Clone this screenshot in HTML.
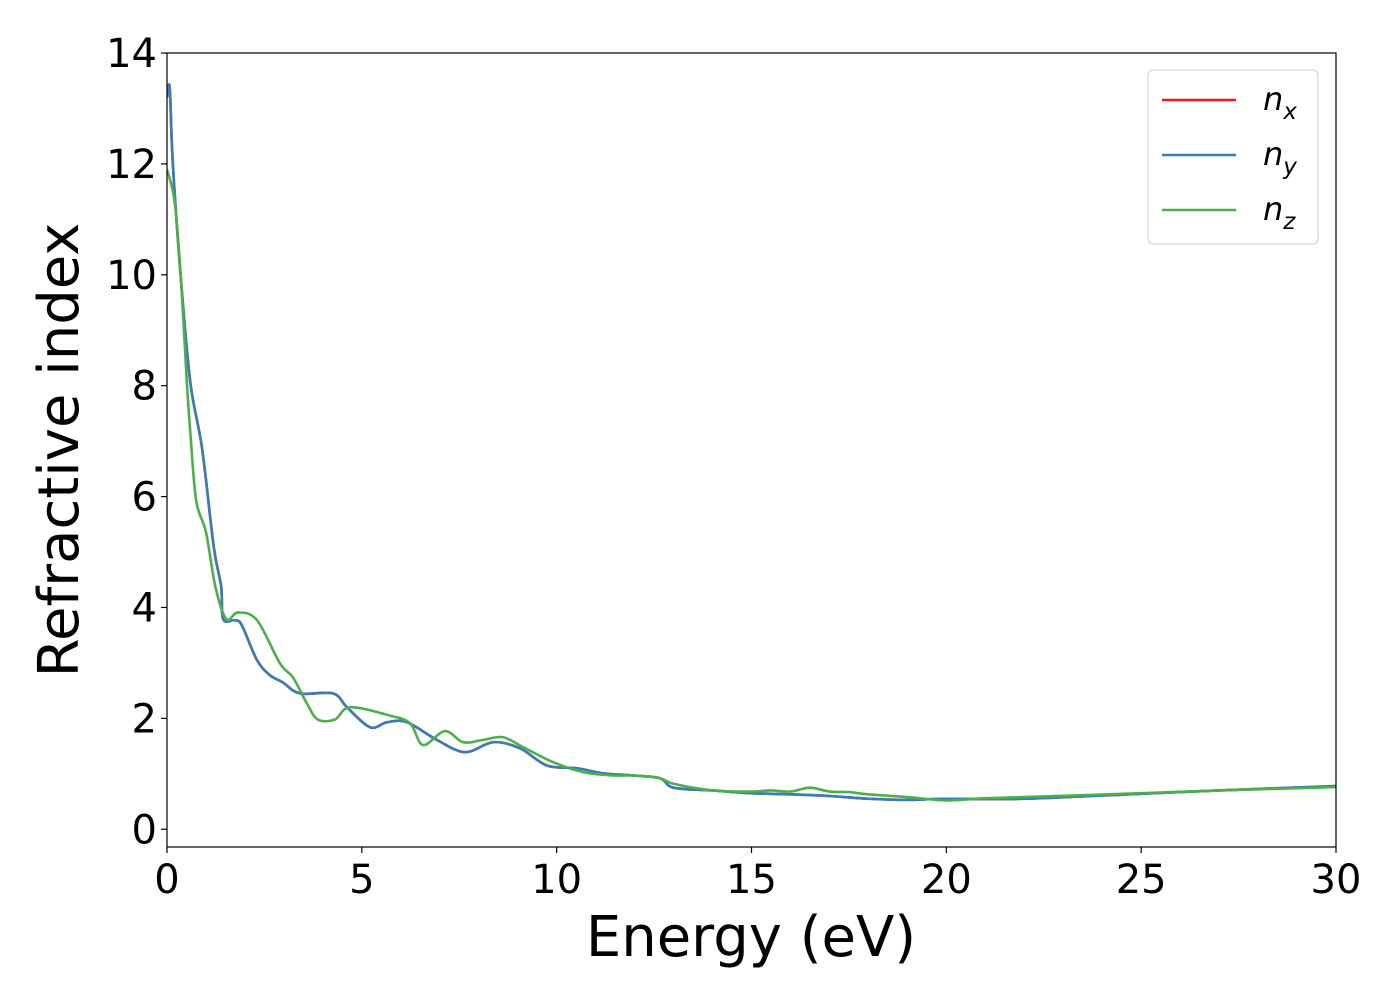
<!DOCTYPE html>
<html><head><meta charset="utf-8"><style>
body{margin:0;background:#fff;}
svg text{font-family:"DejaVu Sans","Liberation Sans",sans-serif;}
</style></head><body>
<svg id="chart" width="1400" height="1000" xmlns="http://www.w3.org/2000/svg">
<rect width="1400" height="1000" fill="#fff"/>
<g id="plot"></g>
</svg>
<script>
const xTicks=[0,5,10,15,20,25,30];
const yTicks=[0,2,4,6,8,10,12,14];
const energyXY=[0,0.07,0.15,0.36,0.6,0.9,1.2,1.39,1.44,1.74,1.92,2.31,2.64,2.97,3.41,4.26,4.62,5.21,5.65,6.16,6.93,7.65,8.37,9.06,9.75,10.52,11.19,11.96,12.65,13,14,15,16,17,18,19,20,22,25,27,30];
const nxValues=[13.2,13.37,12.0,9.9,8.05,6.87,5.09,4.38,3.79,3.77,3.68,3.05,2.78,2.65,2.45,2.45,2.2,1.84,1.93,1.93,1.61,1.39,1.57,1.46,1.15,1.10,1.01,0.97,0.92,0.75,0.7,0.65,0.63,0.6,0.55,0.53,0.55,0.55,0.64,0.7,0.78];
const nyValues=nxValues.slice();
const energyZ=[0,0.2,0.36,0.51,0.6,0.75,1.0,1.24,1.52,1.82,2.31,2.9,3.23,3.59,3.87,4.31,4.7,5.72,6.24,6.57,7.13,7.6,8.1,8.62,9.14,9.91,10.68,11.45,12.0,12.65,13,14,15,15.5,16,16.5,17,17.5,18,19,20,21,22,25,27,30];
const nzValues=[11.9,11.3,9.9,8.05,7.14,5.92,5.36,4.38,3.79,3.91,3.77,2.99,2.74,2.27,1.98,1.98,2.2,2.05,1.91,1.52,1.77,1.57,1.61,1.66,1.48,1.21,1.03,0.97,0.97,0.92,0.82,0.7,0.68,0.7,0.68,0.75,0.68,0.67,0.63,0.58,0.52,0.56,0.58,0.65,0.7,0.76];

const X0=167,X1=1336,Y0=53,Y1=847,xmin=0,xmax=30,ymin=-0.32,ymax=14;
const sx=v=>X0+(v-xmin)/(xmax-xmin)*(X1-X0);
const sy=v=>Y1-(v-ymin)/(ymax-ymin)*(Y1-Y0);
const NS="http://www.w3.org/2000/svg";
const g=document.getElementById('plot');
function mk(t,a,p){const e=document.createElementNS(NS,t);for(const k in a)e.setAttribute(k,a[k]);(p||g).appendChild(e);return e;}
function pathOf(xs,ys){
  const P=xs.map((x,i)=>[sx(x),sy(ys[i])]);
  let d='M'+P[0][0]+','+P[0][1];
  for(let i=0;i<P.length-1;i++){
    const p0=P[Math.max(0,i-1)],p1=P[i],p2=P[i+1],p3=P[Math.min(P.length-1,i+2)];
    const c1=[p1[0]+(p2[0]-p0[0])/6,p1[1]+(p2[1]-p0[1])/6];
    const c2=[p2[0]-(p3[0]-p1[0])/6,p2[1]-(p3[1]-p1[1])/6];
    d+=` C${c1[0]},${c1[1]} ${c2[0]},${c2[1]} ${p2[0]},${p2[1]}`;
  }
  return d;
}
const clip=mk('clipPath',{id:'cp'});
mk('rect',{x:X0,y:Y0,width:X1-X0,height:Y1-Y0},clip);
const series=[[energyXY,nxValues,'#e41a1c','series-nx'],[energyXY,nyValues,'#377eb8','series-ny'],[energyZ,nzValues,'#4daf4a','series-nz']];
series.forEach(s=>{
  const p=mk('path',{d:pathOf(s[0],s[1]),fill:'none',stroke:s[2],'stroke-width':2.6,'clip-path':'url(#cp)','stroke-linejoin':'round'});
  
  
});
const frame=mk('rect',{x:X0,y:Y0,width:X1-X0,height:Y1-Y0,fill:'none',stroke:'#000','stroke-width':1.2});


xTicks.forEach(v=>{
  mk('line',{x1:sx(v),x2:sx(v),y1:Y1,y2:Y1+6,stroke:'#000','stroke-width':1.2});
  const t=mk('text',{x:sx(v),y:Y1+46,'font-size':40,'text-anchor':'middle'});t.textContent=v;
  
  
});
yTicks.forEach(v=>{
  mk('line',{x1:X0-6,x2:X0,y1:sy(v),y2:sy(v),stroke:'#000','stroke-width':1.2});
  const t=mk('text',{x:X0-10,y:sy(v)+14,'font-size':40,'text-anchor':'end'});t.textContent=v;
  
  
});
const xl=mk('text',{x:751,y:956,'font-size':56,'text-anchor':'middle'});xl.textContent='Energy (eV)';


const yl=mk('text',{x:0,y:0,'font-size':56,'text-anchor':'middle',transform:'translate(78,450) rotate(-90)'});yl.textContent='Refractive index';


const lg=mk('g',{});


mk('rect',{x:1148,y:70,width:170,height:174,rx:5,fill:'#fff',stroke:'#ccc','stroke-width':1},lg);
const labs=['x','y','z'];
series.forEach((s,i)=>{
  const y=100+i*55;
  const l=mk('line',{x1:1162,x2:1236,y1:y,y2:y,stroke:s[2],'stroke-width':2.6},lg);
  
  
  const t=mk('text',{x:1263,y:y+10,'font-size':32,'font-style':'italic'},lg);
  
  
  t.textContent='n';
  const sub=mk('tspan',{'font-size':23,dy:9},t);sub.textContent=labs[i];
});
</script>
</body></html>
